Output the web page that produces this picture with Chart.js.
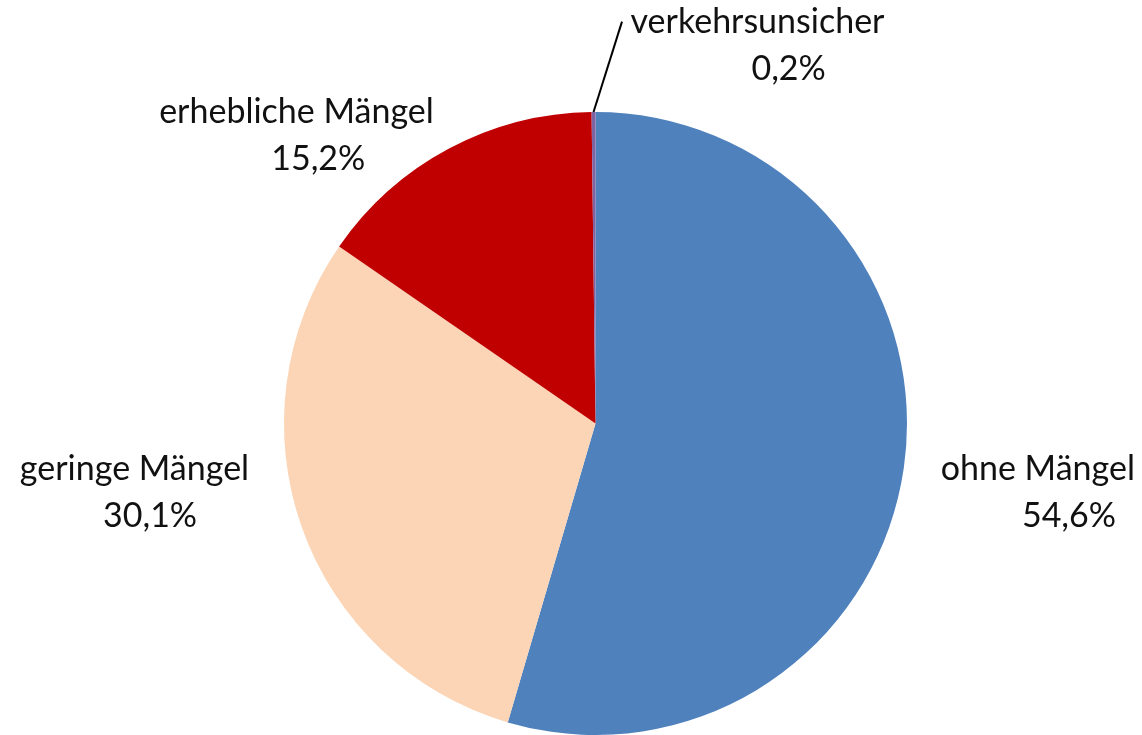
<!DOCTYPE html>
<html>
<head>
<meta charset="utf-8">
<script src="https://cdn.jsdelivr.net/npm/chart.js@4"></script>
<style>
  html, body { margin: 0; padding: 0; background: #fff; }
  #wrap { width: 1142px; height: 735px; }
</style>
</head>
<body>
<div id="wrap"><canvas id="myChart"></canvas></div>
<script>
const categories = ["ohne Mängel", "geringe Mängel", "erhebliche Mängel", "verkehrsunsicher"];
const shares = [54.6, 30.1, 15.2, 0.2];
const valueLabels = ["54,6%", "30,1%", "15,2%", "0,2%"];
const colors = ["#4F81BD", "#FBD5B5", "#C00000", "#8064A2"];

// label placement in pie radii relative to the centre: [x, y of line 1, x of line 2]
const labelPos = [
    [1.42, 0.145, 1.52],
    [-1.48, 0.145, -1.43],
    [-0.96, -1.00, -0.89],
    [0.52, -1.29, 0.62]
];

const labelPlugin = {
    id: "pieLabels",
    afterDraw(chart) {
        const ctx = chart.ctx;
        const meta = chart.getDatasetMeta(0);
        const first = meta.data[0];
        const cx = first.x, cy = first.y, r = first.outerRadius;
        ctx.save();
        ctx.font = "34px Lato";
        ctx.fillStyle = "#111";
        ctx.textAlign = "center";
        ctx.textBaseline = "middle";
        meta.data.forEach((arc, i) => {
            const p = labelPos[i];
            const x1 = cx + p[0] * r;
            const y1 = cy + p[1] * r;
            const x2 = cx + p[2] * r;
            ctx.fillText(categories[i], x1, y1);
            ctx.fillText(valueLabels[i], x2, y1 + 47);
        });
        // leader line for the tiny slice
        const small = meta.data[3];
        const mid = (small.startAngle + small.endAngle) / 2;
        const sx = cx + Math.cos(mid) * r;
        const sy = cy + Math.sin(mid) * r;
        ctx.strokeStyle = "#000";
        ctx.lineWidth = 2;
        ctx.beginPath();
        ctx.moveTo(sx, sy);
        ctx.lineTo(cx + 0.085 * r, cy - 1.29 * r);
        ctx.stroke();
        ctx.restore();
    }
};

const ctx = document.getElementById("myChart").getContext("2d");
const myChart = new Chart(ctx, {
    type: "pie",
    data: {
        labels: categories,
        datasets: [{
            data: shares,
            backgroundColor: colors,
            borderWidth: 0
        }]
    },
    options: {
        responsive: true,
        maintainAspectRatio: false,
        animation: false,
        layout: { padding: { top: 112, bottom: 0, left: 49, right: 0 } },
        plugins: {
            legend: { display: false },
            tooltip: { enabled: false }
        }
    },
    plugins: [labelPlugin]
});
</script>
</body>
</html>
